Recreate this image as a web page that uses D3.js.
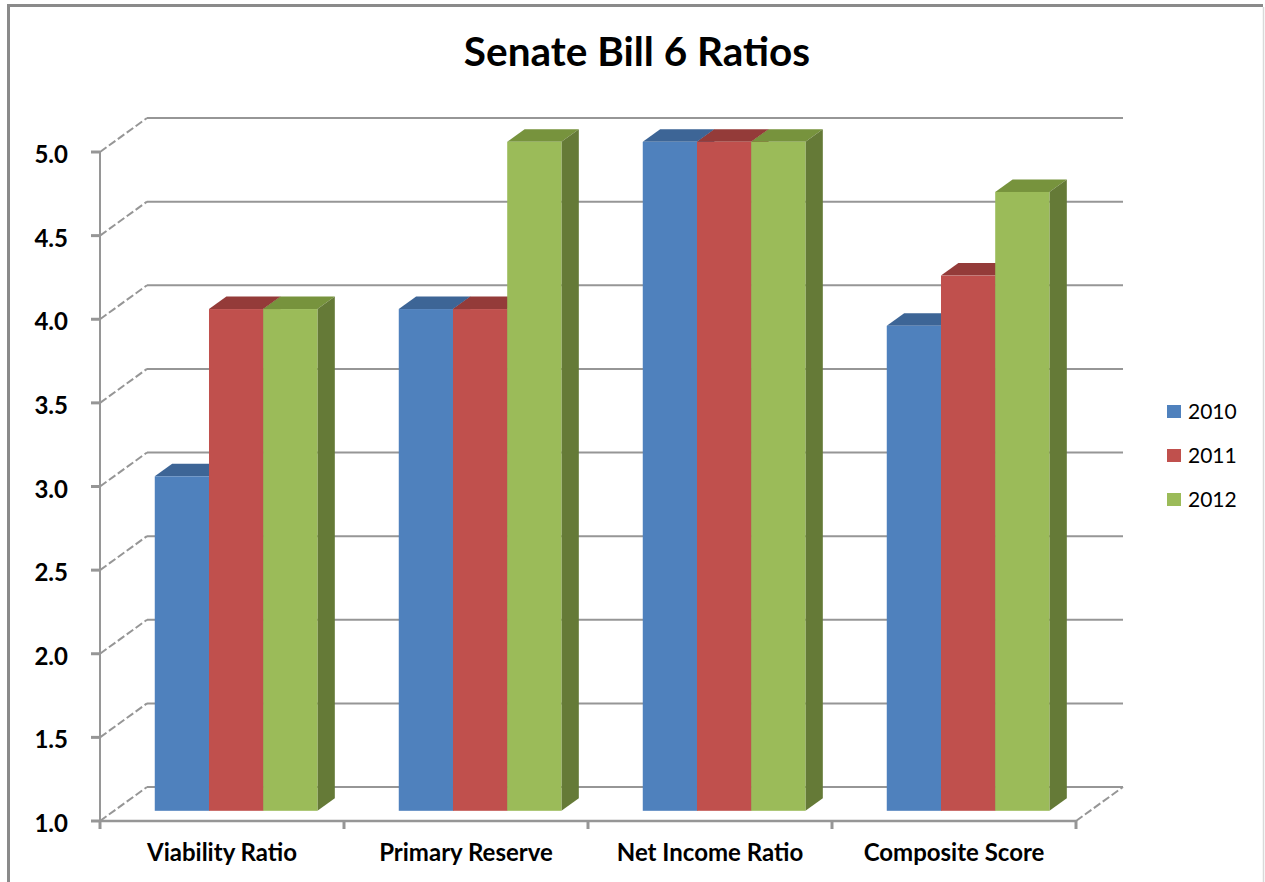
<!DOCTYPE html>
<html>
<head>
<meta charset="utf-8">
<script src="https://cdn.jsdelivr.net/npm/d3@7"></script>
<style>
  body { margin: 0; background: #fff; }
  svg { display: block; font-family: Lato, "Open Sans", sans-serif; }
</style>
</head>
<body>
<div id="chart"></div>
<script>
const categories = ['Viability Ratio', 'Primary Reserve', 'Net Income Ratio', 'Composite Score'];
const years = ['2010', '2011', '2012'];
const values2010 = [3.0, 4.0, 5.0, 3.9];
const values2011 = [4.0, 4.0, 5.0, 4.2];
const values2012 = [4.0, 5.0, 5.0, 4.7];
const yTicks = [1.0, 1.5, 2.0, 2.5, 3.0, 3.5, 4.0, 4.5, 5.0];

const seriesValues = [values2010, values2011, values2012];
const colors = [
  { front: '#4f81bd', top: '#3d6596', side: '#385e8b' },
  { front: '#c0504d', top: '#943b39', side: '#8b3735' },
  { front: '#9bbb59', top: '#77933d', side: '#657a37' }
];

const width = 1265;
const height = 882;

// depth of the 3d box, front plane to back wall
const depthX = 47;
const depthY = -34;
const zFront = 0.3;
const zBack = 0.67;

const svg = d3
  .select('#chart')
  .append('svg')
  .attr('width', width)
  .attr('height', height);

// chart border
svg.append('path')
  .attr('d', 'M8.5,884 L8.5,5.5 L1263,5.5')
  .attr('fill', 'none')
  .attr('stroke', '#8a8a8a')
  .attr('stroke-width', 3);
svg.append('line')
  .attr('x1', 1263.5).attr('y1', 7).attr('x2', 1263.5).attr('y2', 882)
  .attr('stroke', '#d9d9d9').attr('stroke-width', 1.5);

svg.append('text')
  .attr('x', 637)
  .attr('y', 66)
  .attr('text-anchor', 'middle')
  .attr('font-size', 40.5)
  .attr('font-weight', 'bold')
  .text('Senate Bill 6 Ratios');

const xScale = d3.scaleBand().domain(categories).range([100, 1076]);
const yScale = d3.scaleLinear().domain([1, 5]).range([821, 152]);
const barScale = d3.scaleBand().domain(years).range([0, xScale.bandwidth()]).paddingOuter(0.75).paddingInner(0);

const gridColor = '#969696';
const x0 = xScale.range()[0];
const x1 = xScale.range()[1];

/**
 * walls and gridlines
 */
const grid = svg.append('g');

grid.selectAll('.back')
  .data(yTicks)
  .enter()
  .append('line')
  .attr('x1', x0 + depthX)
  .attr('x2', x1 + depthX)
  .attr('y1', d => yScale(d) + depthY)
  .attr('y2', d => yScale(d) + depthY)
  .attr('stroke', gridColor)
  .attr('stroke-width', 2);

grid.selectAll('.side')
  .data(yTicks)
  .enter()
  .append('line')
  .attr('x1', x0)
  .attr('x2', x0 + depthX)
  .attr('y1', d => yScale(d))
  .attr('y2', d => yScale(d) + depthY)
  .attr('stroke', gridColor)
  .attr('stroke-width', 2)
  .attr('stroke-dasharray', '8,3');

// floor right edge
grid.append('line')
  .attr('x1', x1).attr('y1', yScale(1))
  .attr('x2', x1 + depthX).attr('y2', yScale(1) + depthY)
  .attr('stroke', gridColor)
  .attr('stroke-width', 2)
  .attr('stroke-dasharray', '8,3');

/**
 * bars
 */
const bars = svg.append('g');
const fx = zFront * depthX, fy = zFront * depthY;
const bx = zBack * depthX, by = zBack * depthY;

categories.forEach((cat, ci) => {
  years.forEach((yr, si) => {
    const v = seriesValues[si][ci];
    const left = xScale(cat) + barScale(yr) + fx;
    const right = left + barScale.bandwidth();
    const top = yScale(v) + fy;
    const bottom = yScale(1) + fy;
    const dx = bx - fx, dy = by - fy;
    const c = colors[si];

    bars.append('path')
      .attr('d', `M${left},${top} L${right},${top} L${right + dx},${top + dy} L${left + dx},${top + dy} Z`)
      .attr('fill', c.top);
    bars.append('path')
      .attr('d', `M${right},${top} L${right + dx},${top + dy} L${right + dx},${bottom + dy} L${right},${bottom} Z`)
      .attr('fill', c.side);
    bars.append('rect')
      .attr('x', left)
      .attr('y', top)
      .attr('width', barScale.bandwidth())
      .attr('height', bottom - top)
      .attr('fill', c.front);
  });
});

/**
 * front axes
 */
const axes = svg.append('g');

axes.append('line')
  .attr('x1', x0).attr('x2', x0)
  .attr('y1', yScale(5)).attr('y2', yScale(1) + 1)
  .attr('stroke', gridColor).attr('stroke-width', 2);

axes.append('line')
  .attr('x1', x0 - 1).attr('x2', x1)
  .attr('y1', yScale(1)).attr('y2', yScale(1))
  .attr('stroke', gridColor).attr('stroke-width', 2.5);

axes.selectAll('.ytick')
  .data(yTicks)
  .enter()
  .append('line')
  .attr('x1', x0 - 9).attr('x2', x0)
  .attr('y1', d => yScale(d)).attr('y2', d => yScale(d))
  .attr('stroke', gridColor).attr('stroke-width', 3);

axes.selectAll('.ylabel')
  .data(yTicks)
  .enter()
  .append('text')
  .attr('x', 68)
  .attr('y', d => yScale(d) + 11)
  .attr('text-anchor', 'end')
  .attr('font-size', 24)
  .attr('font-weight', 'bold')
  .text(d => d.toFixed(1));

const catTicks = categories.map(c => xScale(c)).concat([x1]);
axes.selectAll('.xtick')
  .data(catTicks)
  .enter()
  .append('line')
  .attr('x1', d => d).attr('x2', d => d)
  .attr('y1', yScale(1)).attr('y2', yScale(1) + 8)
  .attr('stroke', gridColor).attr('stroke-width', 3);

axes.selectAll('.xlabel')
  .data(categories)
  .enter()
  .append('text')
  .attr('x', d => xScale(d) + xScale.bandwidth() / 2)
  .attr('y', 861)
  .attr('text-anchor', 'middle')
  .attr('font-size', 24)
  .attr('font-weight', 'bold')
  .text(d => d);

/**
 * legend
 */
const legend = svg.append('g');
years.forEach((yr, i) => {
  legend.append('rect')
    .attr('x', 1167).attr('y', 405 + i * 44)
    .attr('width', 14).attr('height', 13)
    .attr('fill', colors[i].front);
  legend.append('text')
    .attr('x', 1188).attr('y', 419 + i * 44)
    .attr('font-size', 21)
    .text(yr);
});
</script>
</body>
</html>
